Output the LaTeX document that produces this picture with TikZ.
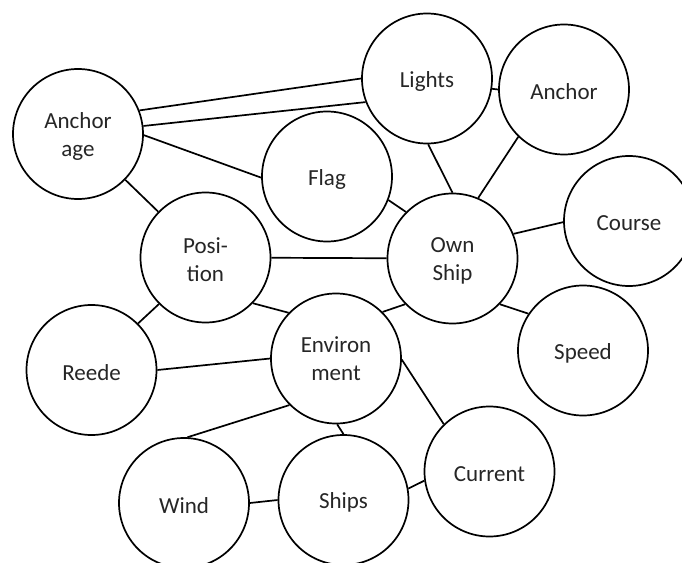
\documentclass[tikz,border=0pt]{standalone}
\usepackage{fontspec}
\setmainfont{Carlito}
\begin{document}
\begin{tikzpicture}[x=1pt,y=-1pt,
  bubble/.style={circle,draw=black,line width=1.7pt,minimum size=130pt,inner sep=0pt},
  txt/.style={align=center,text=black!85,font=\fontsize{23}{28}\selectfont,yshift=-2.5pt,inner sep=0pt},
  link/.style={draw=black,line width=1.7pt}]
\clip (0,0) rectangle (682,562);
\fill[white] (0,0) rectangle (682,562);
\node[bubble,label={[txt]center:Anchor\\age}] (anch) at (78,134) {};
\node[bubble,label={[txt]center:Lights}] (lights) at (427,78.5) {};
\node[bubble,label={[txt]center:Anchor}] (anchor) at (564,89.5) {};
\node[bubble,label={[txt]center:Flag}] (flag) at (327,176.5) {};
\node[bubble,label={[txt]center:Posi-\\tion}] (pos) at (205.5,257.5) {};
\node[bubble,label={[txt]center:Own\\Ship}] (own) at (452.5,258.5) {};
\node[bubble,label={[txt]center:Course}] (course) at (629,221) {};
\node[bubble,label={[txt]center:Speed}] (speed) at (583,350.5) {};
\node[bubble,label={[txt]center:Reede}] (reede) at (91.5,370) {};
\node[bubble,label={[txt,yshift=2.5pt]center:Environ\\ment}] (env) at (336,358.5) {};
\node[bubble,label={[txt]center:Wind}] (wind) at (184,503) {};
\node[bubble,label={[txt]center:Ships}] (ships) at (343.5,500) {};
\node[bubble,label={[txt]center:Current}] (current) at (489.5,471.5) {};
\path[link] (anch.21) -- (lights.180);
\path[link] (anch.7) -- (lights.201);
\path[link] (anch.-1) -- (flag.181);
\path[link] (anch) -- (pos);
\path[link] (pos) -- (own);
\path[link] (flag.-21) -- (own.135);
\path[link] (lights.-89) -- (own.90);
\path[link] (anchor.226) -- (own.67);
\path[link] (lights.-9) -- (anchor.180);
\path[link] (own.22) -- (course.181);
\path[link] (own.-44) -- (speed.146);
\path[link] (pos.-44) -- (env.136);
\path[link] (env.45) -- (own.224);
\path[link] (reede.45) -- (pos.225);
\path[link] (reede.0) -- (env.180);
\path[link] (env.225) -- (wind.87);
\path[link] (env.-89) -- (ships.90);
\path[link] (env.-1) -- (current.134);
\path[link] (ships.10) -- (current.188);
\path[link] (wind.0) -- (ships.180);
\end{tikzpicture}
\end{document}
